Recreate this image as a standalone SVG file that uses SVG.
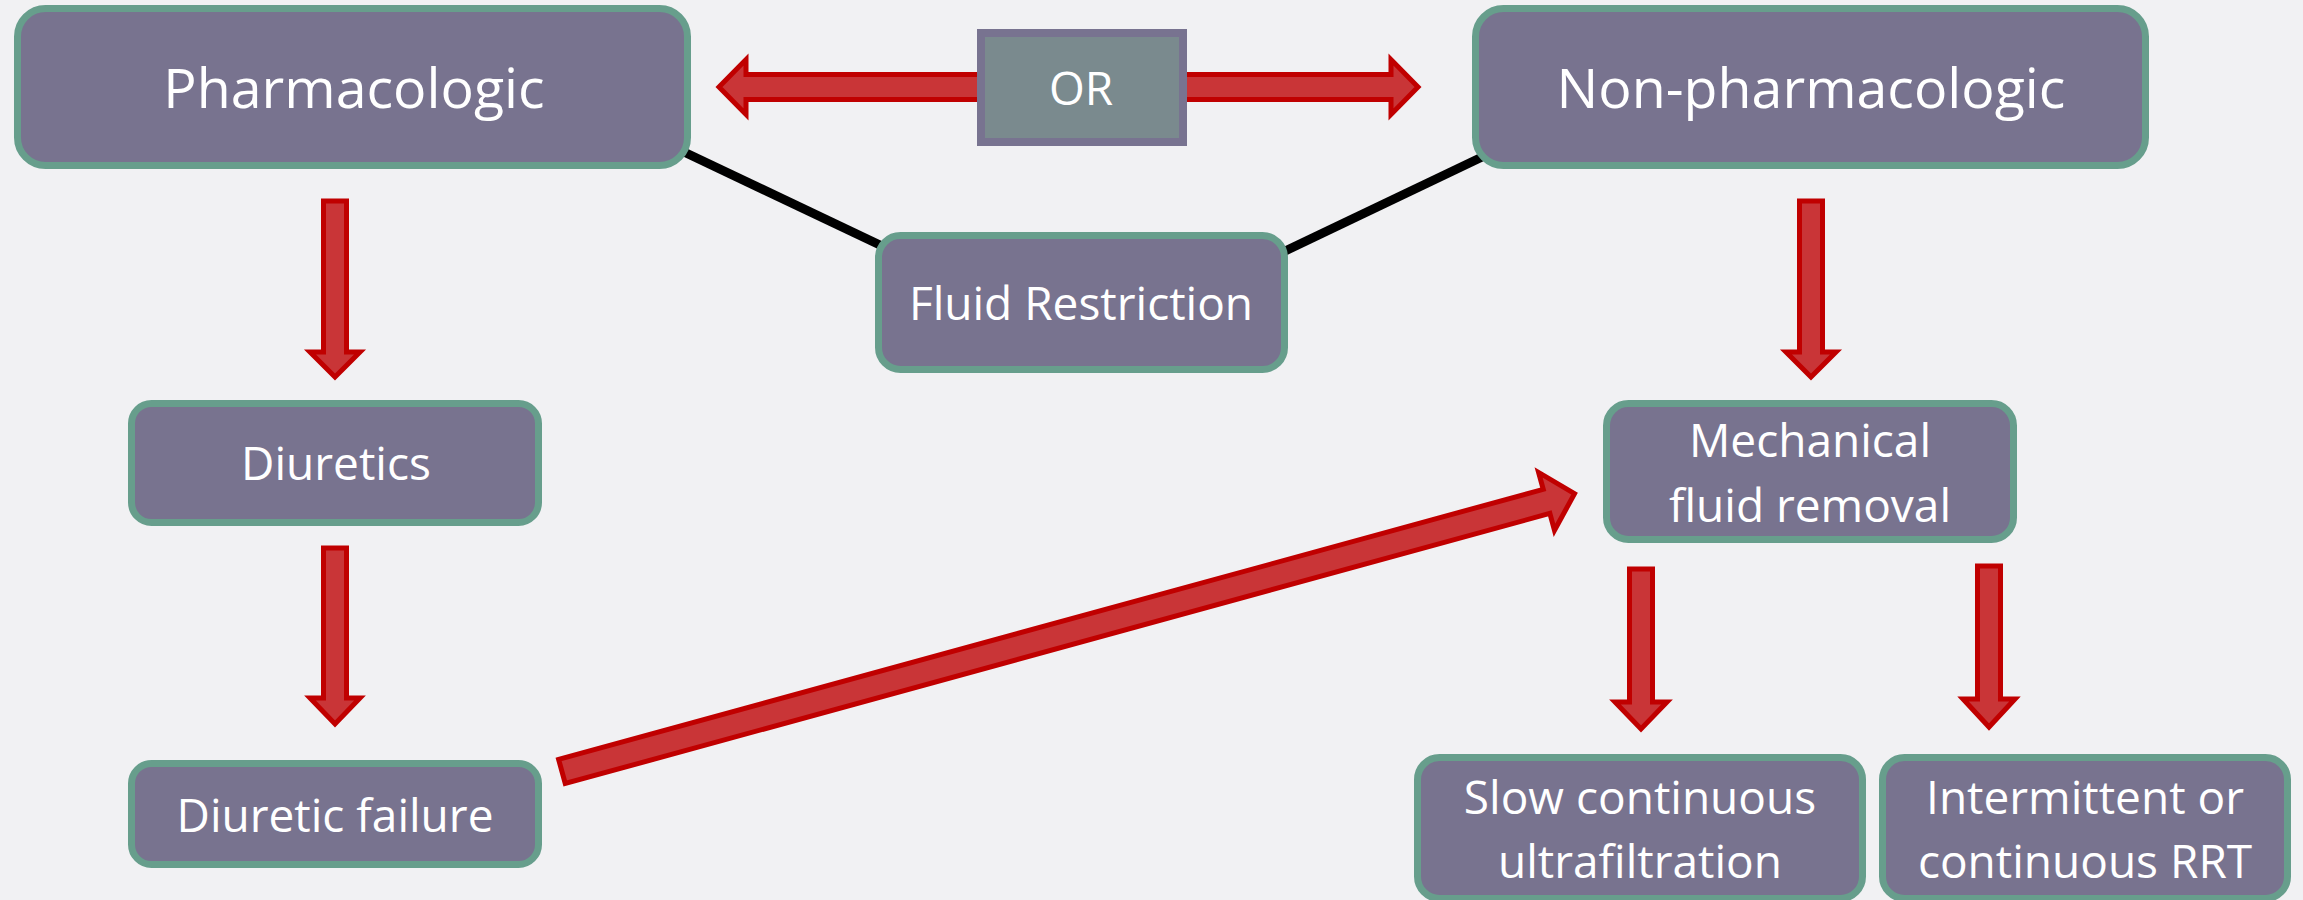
<svg xmlns="http://www.w3.org/2000/svg" width="2303" height="900" viewBox="0 0 2303 900">
<style>
.node{fill:#78738f;stroke:#679e8c;stroke-width:7}
.orbox{fill:#7a8a8e;stroke:#787390;stroke-width:8}
.arr{fill:#c93537;stroke:#c00000;stroke-width:5;stroke-linejoin:miter}
.line{stroke:#000;stroke-width:9;fill:none}
text{font-family:"Open Sans","Noto Sans",sans-serif;fill:#fff;text-anchor:middle}
.big{font-size:55.5px}
.sm{font-size:46px}
</style>
<rect width="2303" height="900" fill="#f1f1f3"/>
<g id="connectors">
  <line class="line" x1="684" y1="152" x2="882" y2="246"/>
  <line class="line" x1="1283" y1="252" x2="1482" y2="157"/>
  <polygon class="arr" points="719,87 746,59.5 746,74.5 1391,74.5 1391,59.5 1418,87 1391,114.5 1391,99.5 746,99.5 746,114.5"/>
  <polygon class="arr" points="323.5,201 346.5,201 346.5,352 360,352 335,377 310,352 323.5,352"/>
  <polygon class="arr" points="323.5,548 346.5,548 346.5,698 360,698 335,724 310,698 323.5,698"/>
  <polygon class="arr" points="1799.5,201 1822.5,201 1822.5,352 1836,352 1811,377 1786,352 1799.5,352"/>
  <polygon class="arr" points="1629.5,569 1652.5,569 1652.5,702 1667,702 1641,729 1615,702 1629.5,702"/>
  <polygon class="arr" points="1977.5,566 2000.5,566 2000.5,699 2015,699 1989,727 1963,699 1977.5,699"/>
  <polygon class="arr" transform="translate(560,772) rotate(-15.34)" points="2,-12.5 1023,-12.5 1023,-30 1052,0 1023,30 1023,12.5 2,12.5"/>
</g>
<g id="or">
  <rect class="orbox" x="981" y="33" width="202" height="109"/>
  <text class="sm" x="1081" y="105">OR</text>
</g>
<g id="pharmacologic">
  <rect class="node" x="17.5" y="8.5" width="670" height="157" rx="28"/>
  <text class="big" x="354" y="108">Pharmacologic</text>
</g>
<g id="non-pharmacologic">
  <rect class="node" x="1475.5" y="8.5" width="670" height="157" rx="28"/>
  <text class="big" x="1811" y="108">Non-pharmacologic</text>
</g>
<g id="fluid-restriction">
  <rect class="node" x="878.5" y="235.5" width="406" height="134" rx="22"/>
  <text class="sm" x="1081" y="320">Fluid Restriction</text>
</g>
<g id="diuretics">
  <rect class="node" x="131.5" y="403.5" width="407" height="119" rx="20"/>
  <text class="sm" x="336" y="480">Diuretics</text>
</g>
<g id="diuretic-failure">
  <rect class="node" x="131.5" y="763.5" width="407" height="101" rx="20"/>
  <text class="sm" x="335" y="832">Diuretic failure</text>
</g>
<g id="mechanical">
  <rect class="node" x="1606.5" y="403.5" width="407" height="136" rx="22"/>
  <text class="sm" x="1810" y="457">Mechanical</text>
  <text class="sm" x="1810" y="522">fluid removal</text>
</g>
<g id="scuf">
  <rect class="node" x="1417.5" y="757.5" width="445" height="141" rx="22"/>
  <text class="sm" x="1640" y="814">Slow continuous</text>
  <text class="sm" x="1640" y="878">ultrafiltration</text>
</g>
<g id="rrt">
  <rect class="node" x="1882.5" y="757.5" width="405" height="141" rx="22"/>
  <text class="sm" x="2085" y="814">Intermittent or</text>
  <text class="sm" x="2085" y="878">continuous RRT</text>
</g>
</svg>
